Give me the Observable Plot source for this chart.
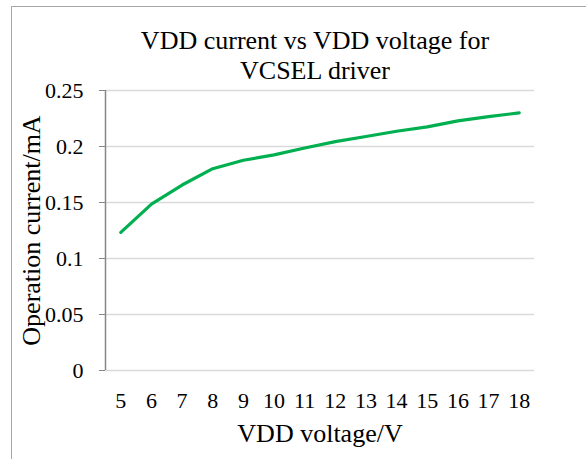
<!DOCTYPE html>
<html>
<head>
<meta charset="utf-8">
<script src="https://cdn.jsdelivr.net/npm/d3@7"></script>
<script src="https://cdn.jsdelivr.net/npm/@observablehq/plot@0.6"></script>
<style>
  html, body { margin: 0; padding: 0; background: #fff; }
  #wrap { position: relative; width: 586px; height: 459px; overflow: hidden; }
  #border { position: absolute; left: 11px; top: 6px; width: 600px; height: 480px; border: 1.5px solid #a6a6a6; box-sizing: border-box; }
  #chart { position: absolute; left: 0; top: 0; }
  #chart svg, #chart svg text, #chart svg g { font-family: "Liberation Serif", "Times New Roman", serif !important; }
</style>
</head>
<body>
<div id="wrap"><div id="border"></div><div id="chart"></div></div>
<script>
const voltages = [5, 6, 7, 8, 9, 10, 11, 12, 13, 14, 15, 16, 17, 18];
const currents = [0.1233, 0.1486, 0.1656, 0.1802, 0.1877, 0.1925, 0.1987, 0.2044, 0.2089, 0.2136, 0.2175, 0.2229, 0.2267, 0.2300];
const yTicks = [0, 0.05, 0.1, 0.15, 0.2, 0.25];
const yTickLabels = ["0", "0.05", "0.1", "0.15", "0.2", "0.25"];
const titleText = "VDD current vs VDD voltage for\nVCSEL driver";
const xTitle = "VDD voltage/V";
const yTitle = "Operation current/mA";

const data = voltages.map((v, i) => ({v, c: currents[i]}));
const font = "Liberation Serif";

const chart = Plot.plot({
  width: 586,
  height: 459,
  marginLeft: 105,
  marginRight: 52,
  marginTop: 90,
  marginBottom: 89,
  style: {"font-family": font, background: "transparent", color: "#000"},
  x: {domain: [4.5, 18.5]},
  y: {domain: [0, 0.25]},
  marks: [
    Plot.ruleY(yTicks, {stroke: "#d9d9d9", strokeWidth: 1.5}),
    Plot.ruleX([4.5], {y1: 0, y2: 0.25, stroke: "#868686", strokeWidth: 1.5}),
    Plot.axisY({ticks: yTicks, tickFormat: (d) => yTickLabels[yTicks.indexOf(d)], tickSize: 6, tickPadding: 16, stroke: "#868686", fontSize: 22, fontFamily: font, fill: "#000", label: null}),
    Plot.axisX({ticks: voltages, tickSize: 0, tickPadding: 22, fontSize: 22, fontFamily: font, fill: "#000", label: null}),
    Plot.line(data, {x: "v", y: "c", stroke: "#00b050", strokeWidth: 3.2, strokeLinecap: "round", strokeLinejoin: "round"}),
    Plot.text([titleText], {frameAnchor: "top", dx: -5, dy: -36.2, fontSize: 26, fontFamily: font, lineHeight: 1.17, lineAnchor: "middle", fill: "#000"}),
    Plot.text([xTitle], {frameAnchor: "bottom", dx: 0, dy: 63, fontSize: 26, fontFamily: font, lineAnchor: "middle", fill: "#000"}),
    Plot.text([yTitle], {frameAnchor: "left", textAnchor: "middle", dx: -74, dy: 0, rotate: -90, fontSize: 26, fontFamily: font, lineAnchor: "middle", fill: "#000"})
  ]
});
document.getElementById("chart").appendChild(chart);
</script>
</body>
</html>
